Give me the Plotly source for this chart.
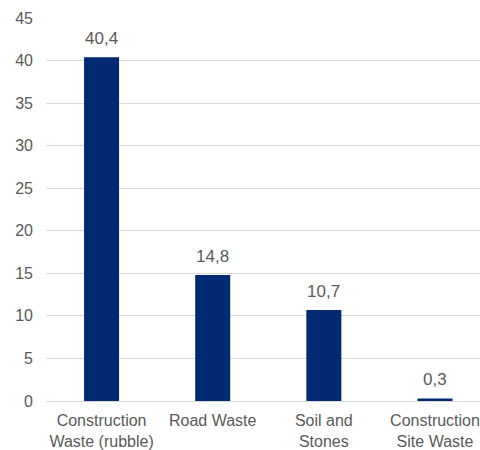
import plotly.graph_objects as go

categories = ["Construction<br>Waste (rubble)", "Road Waste", "Soil and<br>Stones", "Construction<br>Site Waste"]
values = [40.4, 14.8, 10.7, 0.3]
y_ticks = [0, 5, 10, 15, 20, 25, 30, 35, 40, 45]

bar_color = "#012a72"
text_color = "#595959"
font_family = "Liberation Sans, Arial, sans-serif"

x_pos = list(range(len(categories)))
labels = [f"{v:.1f}".replace(".", ",") for v in values]

fig = go.Figure(
    go.Bar(
        x=x_pos,
        y=values,
        marker=dict(color=bar_color, line=dict(width=0)),
        width=0.315,
    )
)

# value labels sitting above each bar
for xp, v, lab in zip(x_pos, values, labels):
    fig.add_annotation(
        x=xp, y=v, text=lab, showarrow=False,
        xanchor="center", yanchor="bottom", yshift=7,
        font=dict(family=font_family, size=17, color=text_color),
    )

fig.update_layout(
    width=480,
    height=450,
    margin=dict(l=46, r=0, t=18, b=47),
    paper_bgcolor="white",
    plot_bgcolor="white",
    showlegend=False,
    font=dict(family=font_family, size=16, color=text_color),
    xaxis=dict(
        tickmode="array",
        tickvals=x_pos,
        ticktext=categories,
        range=[-0.5, 3.405],
        showgrid=False,
        zeroline=False,
        showline=False,
        ticks="",
        ticklabelstandoff=8,
        tickfont=dict(size=16, color=text_color),
    ),
    yaxis=dict(
        range=[0, 45],
        tickmode="array",
        tickvals=y_ticks,
        showgrid=True,
        gridcolor="#d9d9d9",
        gridwidth=1,
        zeroline=True,
        zerolinecolor="#d9d9d9",
        zerolinewidth=1,
        showline=False,
        ticks="",
        ticklabelstandoff=12,
        tickfont=dict(size=16, color=text_color),
    ),
)

fig.write_html("out.html")
